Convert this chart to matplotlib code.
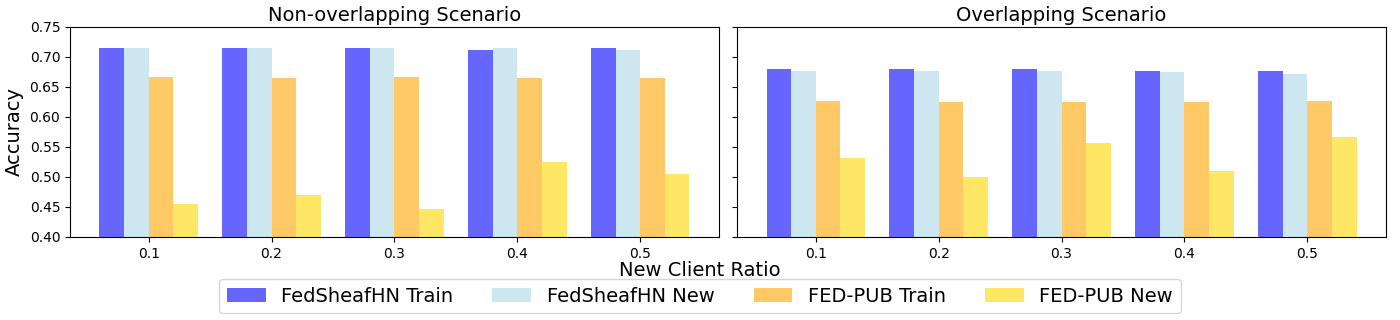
import matplotlib
matplotlib.use("Agg")
import matplotlib.pyplot as plt
import numpy as np

ratios = ["0.1", "0.2", "0.3", "0.4", "0.5"]
series_names = ["FedSheafHN Train", "FedSheafHN New", "FED-PUB Train", "FED-PUB New"]

non_fedsheaf_train = [0.715, 0.714, 0.715, 0.712, 0.714]
non_fedsheaf_new = [0.714, 0.714, 0.715, 0.714, 0.712]
non_fedpub_train = [0.666, 0.664, 0.666, 0.664, 0.664]
non_fedpub_new = [0.455, 0.469, 0.447, 0.524, 0.505]

ov_fedsheaf_train = [0.679, 0.679, 0.679, 0.676, 0.677]
ov_fedsheaf_new = [0.677, 0.676, 0.676, 0.674, 0.671]
ov_fedpub_train = [0.626, 0.624, 0.624, 0.624, 0.626]
ov_fedpub_new = [0.532, 0.500, 0.557, 0.509, 0.567]

colors = ["blue", "lightblue", "orange", "gold"]

fig, axes = plt.subplots(1, 2, figsize=(14, 3.2), dpi=100, sharey=True)
fig.subplots_adjust(left=0.05, right=0.99, top=0.916, bottom=0.26, wspace=0.028)

panels = [
    ("Non-overlapping Scenario", [non_fedsheaf_train, non_fedsheaf_new, non_fedpub_train, non_fedpub_new]),
    ("Overlapping Scenario", [ov_fedsheaf_train, ov_fedsheaf_new, ov_fedpub_train, ov_fedpub_new]),
]

x = np.arange(len(ratios))
w = 0.2
for ax, (title, data) in zip(axes, panels):
    for i, (vals, name, c) in enumerate(zip(data, series_names, colors)):
        ax.bar(x + (i - 1.5) * w, vals, w, color=c, alpha=0.6, label=name)
    ax.set_xticks(x)
    ax.set_xticklabels(ratios)
    ax.set_title(title, fontsize=14, pad=4)
    ax.set_ylim(0.40, 0.75)

axes[0].set_ylabel("Accuracy", fontsize=14)
fig.text(0.5, 0.155, "New Client Ratio", ha="center", va="center", fontsize=14)

handles, labels = axes[0].get_legend_handles_labels()
fig.legend(handles, labels, loc="lower center", bbox_to_anchor=(0.5, -0.01), ncol=4, fontsize=14, handlelength=2.0, columnspacing=2.0)

fig.savefig("out.png", dpi=100)
